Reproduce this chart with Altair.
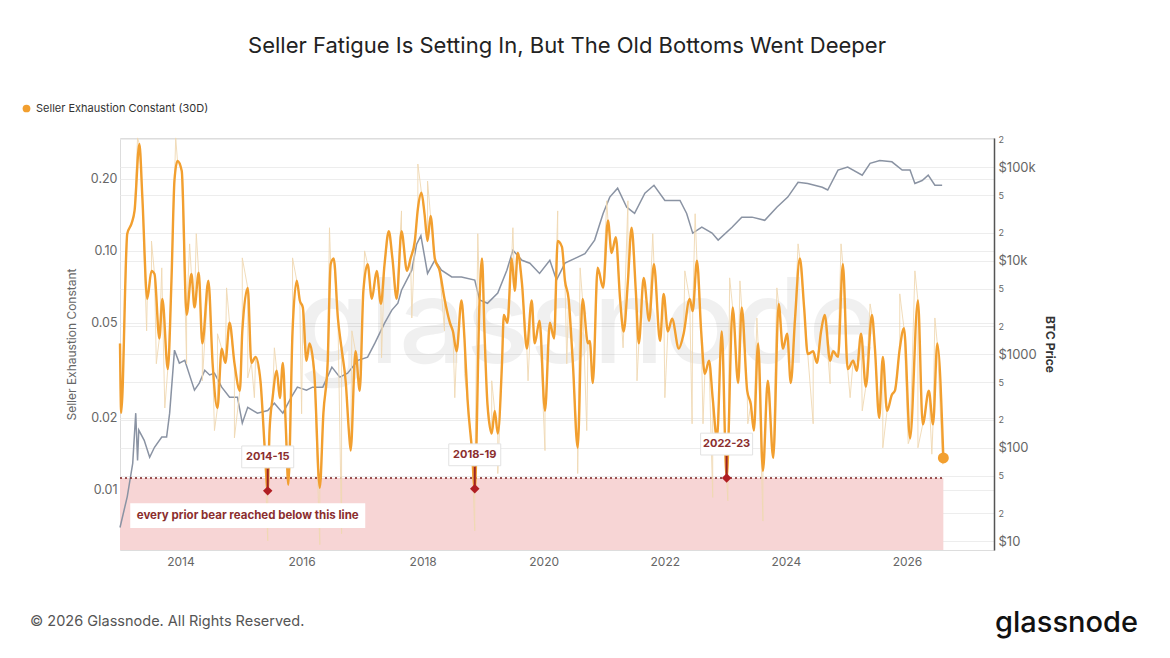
import altair as alt
import pandas as pd

# ---------------- data ----------------
orange_year = [2013.00, 2013.02, 2013.12, 2013.19, 2013.24, 2013.32, 2013.37, 2013.45, 2013.52, 2013.57,
               2013.65, 2013.70, 2013.79, 2013.85, 2013.90, 2013.95, 2014.02, 2014.10, 2014.18, 2014.23,
               2014.30, 2014.36, 2014.46, 2014.53, 2014.61, 2014.68, 2014.74, 2014.81, 2014.89, 2014.98,
               2015.02, 2015.11, 2015.17, 2015.24, 2015.32, 2015.39, 2015.44, 2015.47, 2015.52, 2015.59,
               2015.64, 2015.69, 2015.74, 2015.78, 2015.85, 2015.92, 2015.97, 2016.02, 2016.08, 2016.13,
               2016.21, 2016.30, 2016.36, 2016.43, 2016.48, 2016.53, 2016.60, 2016.66, 2016.73, 2016.78,
               2016.81, 2016.89, 2016.96, 2017.02, 2017.09, 2017.16, 2017.24, 2017.31, 2017.37, 2017.44,
               2017.50, 2017.57, 2017.65, 2017.74, 2017.80, 2017.87, 2017.92, 2017.98, 2018.03, 2018.08,
               2018.13, 2018.20, 2018.28, 2018.36, 2018.45, 2018.50, 2018.56, 2018.64, 2018.69, 2018.74,
               2018.81, 2018.86, 2018.94, 2018.98, 2019.02, 2019.07, 2019.14, 2019.19, 2019.24, 2019.31,
               2019.34, 2019.40, 2019.47, 2019.52, 2019.57, 2019.64, 2019.72, 2019.80, 2019.85, 2019.93,
               2020.02, 2020.10, 2020.17, 2020.23, 2020.30, 2020.35, 2020.41, 2020.48, 2020.56, 2020.64,
               2020.73, 2020.76, 2020.81, 2020.89, 2020.98, 2021.06, 2021.12, 2021.19, 2021.26, 2021.32,
               2021.39, 2021.45, 2021.52, 2021.57, 2021.65, 2021.74, 2021.82, 2021.92, 2021.98, 2022.05,
               2022.12, 2022.23, 2022.31, 2022.41, 2022.46, 2022.53, 2022.60, 2022.66, 2022.73, 2022.79,
               2022.86, 2022.94, 2023.02, 2023.12, 2023.21, 2023.27, 2023.36, 2023.42, 2023.47, 2023.54,
               2023.62, 2023.70, 2023.79, 2023.88, 2023.95, 2024.02, 2024.08, 2024.15, 2024.23, 2024.30,
               2024.36, 2024.45, 2024.51, 2024.58, 2024.64, 2024.73, 2024.78, 2024.86, 2024.94, 2025.02,
               2025.11, 2025.17, 2025.24, 2025.32, 2025.42, 2025.47, 2025.54, 2025.60, 2025.67, 2025.75,
               2025.80, 2025.88, 2025.95, 2026.05, 2026.18, 2026.26, 2026.36, 2026.43, 2026.50, 2026.60]
orange_val = [0.041, 0.021, 0.118, 0.13, 0.147, 0.28, 0.166, 0.063, 0.0825, 0.08,
              0.043, 0.063, 0.032, 0.075, 0.198, 0.238, 0.216, 0.054, 0.08, 0.058,
              0.081, 0.041, 0.075, 0.0337, 0.022, 0.039, 0.034, 0.05, 0.034, 0.026,
              0.046, 0.07, 0.034, 0.036, 0.0286, 0.015, 0.0099, 0.0177, 0.0242, 0.0315,
              0.0242, 0.034, 0.018, 0.0105, 0.046, 0.075, 0.062, 0.058, 0.0347, 0.041,
              0.0306, 0.0102, 0.021, 0.034, 0.088, 0.093, 0.052, 0.039, 0.028, 0.0177,
              0.0146, 0.038, 0.026, 0.068, 0.088, 0.063, 0.0825, 0.06, 0.088, 0.121,
              0.093, 0.063, 0.121, 0.0825, 0.093, 0.11, 0.15, 0.175, 0.143, 0.11,
              0.14, 0.093, 0.0825, 0.063, 0.05, 0.046, 0.038, 0.062, 0.043, 0.024,
              0.015, 0.0101, 0.063, 0.093, 0.046, 0.0228, 0.0172, 0.0214, 0.0172, 0.034,
              0.054, 0.05, 0.093, 0.068, 0.098, 0.073, 0.039, 0.062, 0.041, 0.051,
              0.0214, 0.05, 0.043, 0.11, 0.104, 0.075, 0.063, 0.034, 0.015, 0.063,
              0.041, 0.042, 0.028, 0.085, 0.07, 0.134, 0.098, 0.114, 0.063, 0.046,
              0.075, 0.125, 0.068, 0.041, 0.077, 0.051, 0.088, 0.042, 0.066, 0.046,
              0.052, 0.039, 0.045, 0.063, 0.056, 0.091, 0.046, 0.0306, 0.0347, 0.0242,
              0.0164, 0.046, 0.0112, 0.058, 0.028, 0.058, 0.026, 0.0228, 0.0177, 0.041,
              0.012, 0.0286, 0.0136, 0.06, 0.039, 0.045, 0.028, 0.052, 0.093, 0.058,
              0.037, 0.038, 0.034, 0.046, 0.054, 0.0347, 0.038, 0.036, 0.088, 0.032,
              0.0347, 0.0315, 0.045, 0.027, 0.054, 0.039, 0.020, 0.036, 0.0214, 0.025,
              0.026, 0.039, 0.0475, 0.0164, 0.062, 0.0188, 0.026, 0.0188, 0.041, 0.0136]

# daily (raw) spikes seen around the 30D line
spike_year = [2013.29, 2013.44, 2013.52, 2013.60, 2013.69, 2013.74, 2013.92, 2014.10, 2014.15, 2014.26,
              2014.36, 2014.56, 2014.61, 2014.76, 2014.89, 2015.02, 2015.11, 2015.22, 2015.44, 2015.55,
              2015.85, 2016.00, 2016.30, 2016.46, 2016.66, 2016.83, 2017.04, 2017.32, 2017.65, 2017.82,
              2017.92, 2018.08, 2018.36, 2018.53, 2018.69, 2018.86, 2018.91, 2019.14, 2019.24, 2019.49,
              2019.74, 2020.02, 2020.23, 2020.38, 2020.56, 2020.60, 2020.71, 2021.04, 2021.31, 2021.39,
              2021.54, 2021.80, 2022.00, 2022.33, 2022.45, 2022.50, 2022.63, 2022.79, 2023.04, 2023.07,
              2023.24, 2023.37, 2023.52, 2023.62, 2023.85, 2024.20, 2024.45, 2024.73, 2024.91, 2025.06,
              2025.26, 2025.39, 2025.60, 2025.88, 2026.02, 2026.13, 2026.18, 2026.41, 2026.46, 2026.59]
spike_val = [0.297, 0.0463, 0.110, 0.0337, 0.0849, 0.0220, 0.297, 0.0337, 0.107, 0.118,
             0.0286, 0.0177, 0.0450, 0.070, 0.0165, 0.0935, 0.0294, 0.0243, 0.00612, 0.0393,
             0.0935, 0.0208, 0.0059, 0.125, 0.00655, 0.0463, 0.100, 0.0357, 0.147, 0.0524,
             0.231, 0.196, 0.0463, 0.0243, 0.0306, 0.00674, 0.118, 0.0286, 0.0117, 0.125,
             0.0286, 0.0146, 0.147, 0.0337, 0.0117, 0.0849, 0.0177, 0.162, 0.0393, 0.162,
             0.0286, 0.118, 0.0243, 0.0825, 0.0189, 0.143, 0.0189, 0.0093, 0.0090, 0.0771,
             0.0749, 0.0189, 0.0524, 0.0074, 0.070, 0.107, 0.0189, 0.0278, 0.107, 0.0243,
             0.0214, 0.060, 0.0150, 0.0661, 0.0156, 0.0825, 0.0150, 0.0141, 0.0524, 0.0128]

price_year = [2013.00, 2013.12, 2013.21, 2013.26, 2013.29, 2013.31, 2013.40, 2013.49, 2013.57, 2013.69,
              2013.77, 2013.82, 2013.90, 2013.98, 2014.07, 2014.23, 2014.31, 2014.40, 2014.48, 2014.56,
              2014.68, 2014.81, 2014.94, 2015.02, 2015.11, 2015.27, 2015.44, 2015.55, 2015.69, 2015.83,
              2015.93, 2016.08, 2016.18, 2016.35, 2016.50, 2016.63, 2016.76, 2016.93, 2017.09, 2017.21,
              2017.37, 2017.49, 2017.59, 2017.65, 2017.82, 2017.90, 2017.97, 2018.08, 2018.20, 2018.31,
              2018.48, 2018.64, 2018.86, 2018.94, 2019.07, 2019.24, 2019.39, 2019.49, 2019.64, 2019.77,
              2019.93, 2020.10, 2020.21, 2020.35, 2020.56, 2020.68, 2020.84, 2020.98, 2021.09, 2021.22,
              2021.37, 2021.50, 2021.67, 2021.82, 2022.00, 2022.25, 2022.36, 2022.46, 2022.61, 2022.78,
              2022.88, 2023.11, 2023.27, 2023.44, 2023.65, 2023.85, 2024.03, 2024.20, 2024.36, 2024.60,
              2024.69, 2024.86, 2025.02, 2025.26, 2025.39, 2025.55, 2025.75, 2025.92, 2026.05, 2026.13,
              2026.25, 2026.35, 2026.46, 2026.58]
price_val = [14, 30, 68, 234, 73, 154, 120, 79, 101, 130,
             130, 234, 1104, 802, 860, 412, 490, 674, 600, 625,
             444, 347, 347, 183, 270, 234, 250, 299, 234, 347,
             444, 412, 444, 444, 727, 568, 625, 860, 929, 1311,
             2149, 2958, 3515, 4835, 7910, 15000, 18500, 7300, 10100, 7900,
             6700, 6700, 6200, 3800, 3500, 4500, 7900, 12900, 10100, 9400,
             7300, 10100, 6200, 9400, 10900, 11900, 16600, 32000, 47800, 59600,
             37300, 32000, 52700, 64000, 44000, 44000, 32000, 19700, 22800, 19700,
             16600, 22800, 29200, 29200, 27000, 37300, 47800, 69000, 67000, 61000,
             57000, 93000, 100000, 82000, 110000, 118000, 114000, 93000, 93000, 67000,
             72000, 82000, 64000, 64000]

bottom_year = [2015.44, 2018.86, 2023.02]
bottom_val = [0.0099, 0.0101, 0.0112]
bottom_label = ["2014-15", "2018-19", "2022-23"]

threshold = 0.0112
note_year = [2015.11]
note_val = [0.0078]
note_text = ["every prior bear reached below this line"]

series_name = "Seller Exhaustion Constant (30D)"

# ---------------- helpers ----------------
def to_date(years):
    base = pd.Timestamp("2013-01-01")
    return [base + pd.Timedelta(days=(y - 2013) * 365.25) for y in years]

ORANGE = "#f29f2f"
RAW = "#efd8b2"
GRAY = "#8a93a3"
DARKRED = "#9b2226"
FONT = "Inter"

orange_df = pd.DataFrame({"date": to_date(orange_year), "v": orange_val})
spike_df = pd.DataFrame({"date": to_date(spike_year), "v": spike_val})
raw_df = pd.concat([orange_df, spike_df]).sort_values("date").reset_index(drop=True)
price_df = pd.DataFrame({"date": to_date(price_year), "price": price_val})
bottom_df = pd.DataFrame({"date": to_date(bottom_year), "v": bottom_val, "label": bottom_label})
zone_df = pd.DataFrame({"date": to_date([orange_year[0]]), "d1": to_date([orange_year[-1]]),
                        "top": [threshold], "bot": [0.0056]})
note_df = pd.DataFrame({"date": to_date(note_year), "v": note_val, "t": note_text})
last_df = pd.DataFrame({"date": to_date([orange_year[-1]]), "v": [orange_val[-1]], "s": [series_name]})

XS = alt.Scale(domain=[alt.DateTime(year=2013, month=1, date=1), alt.DateTime(year=2027, month=6, date=10)])
x_axis = alt.Axis(values=[alt.DateTime(year=y, month=1, date=1) for y in range(2014, 2027, 2)],
                  format="%Y", grid=False, domain=False, ticks=False, labelColor="#666",
                  labelFontSize=12, labelPadding=6, labelFont=FONT, title=None)
YL = alt.Scale(type="log", domain=[0.0056, 0.2968], nice=False)
YR = alt.Scale(type="log", domain=[8.05, 205000], nice=False)

left_axis = alt.Axis(orient="left", values=[0.01, 0.02, 0.05, 0.1, 0.2], format=".2f",
                     title="Seller Exhaustion Constant", grid=True, gridColor="#ededed",
                     domain=False, ticks=False, labelColor="#666", labelFontSize=12.5,
                     labelFont=FONT, titleFont=FONT, titleColor="#666", titleFontSize=12,
                     titleFontWeight="normal", labelPadding=3, titlePadding=12)
major = "indexof([10,100,1000,10000,100000], datum.value) >= 0"
right_axis = alt.Axis(orient="right",
                      values=[10, 20, 50, 100, 200, 500, 1000, 2000, 5000, 10000, 20000, 50000, 100000, 200000],
                      labelExpr="indexof([10,100,1000,10000,100000], datum.value) >= 0 ? "
                                "(datum.value >= 10000 ? '$' + (datum.value/1000) + 'k' : '$' + datum.value) : "
                                "substring(toString(datum.value), 0, 1)",
                      labelFontSize={"condition": {"test": major, "value": 13}, "value": 9},
                      labelColor="#666", labelFont=FONT, grid=True, gridColor="#ededed",
                      domain=True, domainColor="#555", domainWidth=1.5, ticks=False,
                      title="BTC Price", titleFont=FONT, titleFontWeight="bold", titleColor="#333",
                      titleFontSize=12, titlePadding=6, labelPadding=4)

X = alt.X("date:T", scale=XS, axis=x_axis, title=None)


def YLq(field):
    return alt.Y(field, scale=YL, axis=left_axis, title="Seller Exhaustion Constant")


# ---------------- layers ----------------
zone = alt.Chart(zone_df).mark_rect(color="#f7d5d5").encode(
    x=X, x2="d1:T", y=alt.Y("top:Q", scale=YL, axis=None), y2="bot:Q")

watermark = alt.Chart(pd.DataFrame({"a": [0]})).mark_text(
    text="glassnode", font=FONT, fontSize=118, fontWeight=500, color="#000", opacity=0.055
).encode(x=alt.value(467), y=alt.value(190))

gray = alt.Chart(price_df).mark_line(color=GRAY, strokeWidth=1.5).encode(
    x=X, y=alt.Y("price:Q", scale=YR, axis=right_axis, title="BTC Price"))

dotted = alt.Chart(zone_df).mark_rule(color="#7a1f1f", strokeDash=[2, 3], strokeWidth=1.6).encode(
    x=X, x2="d1:T", y=YLq("top:Q"))

raw = alt.Chart(raw_df).mark_line(color=RAW, strokeWidth=1, opacity=0.9).encode(x=X, y=YLq("v:Q"))

orange = alt.Chart(orange_df).mark_line(color=ORANGE, strokeWidth=2.4, interpolate="monotone").encode(
    x=X, y=YLq("v:Q"))

connector = alt.Chart(bottom_df).transform_calculate(top="datum.v * 1.24").mark_rule(
    color=DARKRED, strokeWidth=2).encode(x=X, y=YLq("v:Q"), y2="top:Q")

diamonds = alt.Chart(bottom_df).mark_point(shape="diamond", filled=True, color="#b01e23", size=90, opacity=1).encode(
    x=X, y=YLq("v:Q"))

label_box = alt.Chart(bottom_df).mark_point(
    shape="M-1,-0.42H1V0.42H-1Z", size=2704, filled=True, fill="white", stroke="#e2e2e2",
    strokeWidth=1, opacity=1, yOffset=-34).encode(x=X, y=YLq("v:Q"))

label_text = alt.Chart(bottom_df).mark_text(
    dy=-34, font=FONT, fontSize=11, fontWeight="bold", color="#8b2e2e").encode(
    x=X, y=YLq("v:Q"), text="label:N")

note_box = alt.Chart(note_df).mark_point(
    shape="M-1,-0.097H1V0.097H-1Z", size=233 * 233, filled=True, fill="white", stroke="white",
    opacity=1).encode(x=X, y=YLq("v:Q"))

note_text_l = alt.Chart(note_df).mark_text(
    font=FONT, fontSize=11.5, fontWeight="bold", color="#8b2e2e").encode(
    x=X, y=YLq("v:Q"), text="t:N")

last_pt = alt.Chart(last_df).mark_circle(size=120, opacity=1).encode(
    x=X, y=YLq("v:Q"),
    color=alt.Color("s:N", scale=alt.Scale(range=[ORANGE]),
                    legend=alt.Legend(orient="none", legendX=-99, legendY=-35, title=None,
                                      labelFontSize=11, labelColor="#333", labelFont=FONT,
                                      labelLimit=0, symbolType="circle", symbolSize=60)))

left_group = alt.layer(dotted, raw, orange, connector, diamonds, label_box, label_text,
                       note_box, note_text_l, last_pt)

footer_l = alt.Chart(pd.DataFrame({"a": [0]})).mark_text(
    text="© 2026 Glassnode. All Rights Reserved.", font=FONT, fontSize=14.5, color="#555",
    align="left", baseline="middle").encode(x=alt.value(-90), y=alt.value(484))
footer_r = alt.Chart(pd.DataFrame({"a": [0]})).mark_text(
    text="glassnode", font=FONT, fontSize=29, fontWeight=500, color="#111",
    align="right", baseline="middle").encode(x=alt.value(1018), y=alt.value(485))

chart = alt.layer(zone, watermark, gray, left_group, footer_l, footer_r).resolve_scale(
    y="independent"
).properties(
    width=874, height=412,
    title=alt.TitleParams("Seller Fatigue Is Setting In, But The Old Bottoms Went Deeper",
                          font=FONT, fontSize=22, fontWeight="normal", color="#222",
                          anchor="middle", frame="group", offset=45, dx=10),
    autosize=alt.AutoSizeParams(type="none"),
    padding={"left": 112, "top": 130, "right": 160, "bottom": 100},
).configure_view(stroke=None).configure(background="white")

chart.save("out.html", embed_options={"renderer": "svg", "actions": False})
